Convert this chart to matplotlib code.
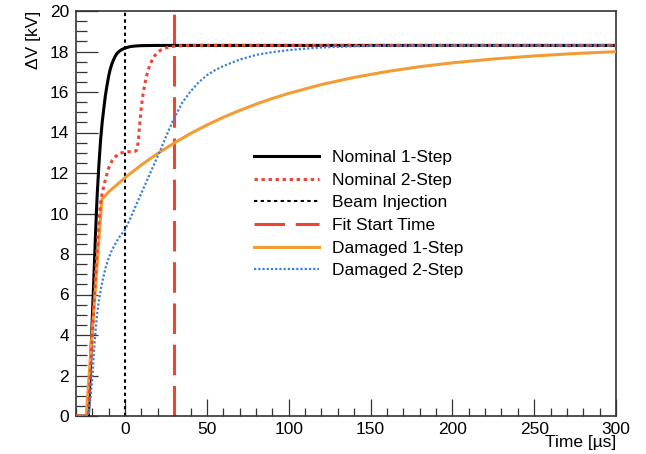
import numpy as np
import matplotlib
matplotlib.use("Agg")
import matplotlib.pyplot as plt
import matplotlib.ticker as ticker

plt.rcParams['font.family'] = ['Liberation Sans', 'DejaVu Sans']

# Nominal 1-Step
t_nom1 = [-30, -22.4, -21, -20, -19, -18, -17.5, -17, -16, -15, -14, -13, -12, -11, -10, -9, -8, -7,
          -6, -5, -4, -2, 0, 3, 6, 10, 20, 300]
v_nom1 = [0, 0, 2.8, 4.9, 7.0, 9.1, 10.1, 11.0, 12.4, 13.6, 14.5, 15.2, 15.85, 16.35, 16.8, 17.15, 17.4, 17.6,
          17.77, 17.9, 17.98, 18.1, 18.17, 18.24, 18.27, 18.29, 18.3, 18.3]

# Nominal 2-Step
t_nom2 = [-30, -22.5, -21, -20, -19, -18, -17, -16, -15, -14, -13, -12, -10, -8, -6, -4, -2, 0, 2, 4, 6, 7,
          8, 9, 10, 11, 12, 13, 14, 15, 16, 18, 20, 22, 25, 28, 32, 40, 300]
v_nom2 = [0, 0, 2.3, 4.0, 5.6, 7.1, 8.4, 9.6, 10.5, 11.0, 11.35, 11.7, 12.25, 12.6, 12.8, 12.93, 13.0, 13.03,
          13.05, 13.05, 13.07, 13.12, 13.5, 14.5, 15.3, 15.9, 16.37, 16.75, 17.05, 17.3, 17.49, 17.78, 17.96,
          18.08, 18.18, 18.24, 18.28, 18.3, 18.3]

# Damaged 1-Step
t_dam1 = [-30, -23.8, -14.2, -10, 0, 10, 20, 30, 40, 50, 60, 70, 80, 90, 100, 120, 140, 160, 180, 200,
          225, 250, 275, 300]
v_dam1 = [0, 0, 10.7, 11.07, 11.77, 12.4, 12.97, 13.48, 13.95, 14.37, 14.75, 15.09, 15.4, 15.68, 15.93,
          16.37, 16.72, 17.01, 17.25, 17.44, 17.63, 17.78, 17.9, 17.99]

# Damaged 2-Step
t_dam2 = [-30, -23, -22, -21, -20, -19, -18, -17, -16, -15, -14, -12, -10, -8, -6, -4, -2, 0, 3, 6, 9, 12,
          15, 18, 21, 25, 30, 35, 40, 45, 50, 55, 60, 70, 80, 90, 100, 110, 120, 140, 160, 300]
v_dam2 = [0, 0, 0.35, 1.0, 1.9, 3.2, 4.3, 5.1, 5.7, 6.2, 6.6, 7.3, 7.8, 8.2, 8.5, 8.78, 9.0, 9.2, 9.72,
          10.28, 10.83, 11.38, 11.93, 12.48, 13.02, 13.8, 14.72, 15.48, 16.03, 16.48, 16.83, 17.08, 17.28,
          17.6, 17.83, 17.97, 18.07, 18.14, 18.2, 18.26, 18.29, 18.3]

t_injection = 0
t_fit_start = 30

red = '#ee4434'
orange = '#f49c34'
blue = '#3b82dc'

fig = plt.figure(figsize=(6.46, 4.54), dpi=100)
ax = fig.add_axes([76/646, 1-416/454, 540/646, 405/454])

ax.plot(t_nom1, v_nom1, color='black', lw=2.2, label='Nominal 1-Step', zorder=3)
ax.plot(t_nom2, v_nom2, color=red, lw=2.2, ls=(0, (1.1, 1.2)), label='Nominal 2-Step', zorder=4)
ax.axvline(t_injection, color='black', lw=1.5, ls=(0, (1.6, 1.6)), label='Beam Injection', zorder=2)
ax.axvline(t_fit_start, color=red, lw=2.2, ls=(0, (10, 3.5)), label='Fit Start Time', zorder=2)
ax.plot(t_dam1, v_dam1, color=orange, lw=2.2, label='Damaged 1-Step', zorder=3)
ax.plot(t_dam2, v_dam2, color=blue, lw=1.6, ls=(0, (1, 0.9)), label='Damaged 2-Step', zorder=4)

ax.set_xlim(-30, 300)
ax.set_ylim(0, 20)
ax.xaxis.set_major_locator(ticker.MultipleLocator(50))
ax.xaxis.set_minor_locator(ticker.MultipleLocator(10))
ax.yaxis.set_major_locator(ticker.MultipleLocator(2))
ax.yaxis.set_minor_locator(ticker.MultipleLocator(0.5))
ax.tick_params(axis='both', which='both', direction='in', top=False, right=False,
               labelsize=12.5, width=0.9, color='#333333')
ax.tick_params(axis='x', which='major', length=12, pad=4)
ax.tick_params(axis='x', which='minor', length=6)
ax.tick_params(axis='y', which='major', length=16, pad=5)
ax.tick_params(axis='y', which='minor', length=8)
for s in ax.spines.values():
    s.set_linewidth(1.2)
    s.set_color('#333333')

ax.set_ylabel('ΔV [kV]', fontsize=12.5, loc='top', labelpad=6)
ax.set_xlabel('Time [µs]', fontsize=12.5, loc='right', labelpad=-1)

ax.legend(loc='upper left', bbox_to_anchor=(254/646, 1-150/454), bbox_transform=fig.transFigure,
          frameon=False, fontsize=12.5, handlelength=3.75, handletextpad=0.75, labelspacing=0.43,
          borderpad=0, borderaxespad=0)

fig.savefig('out.png', dpi=100)
